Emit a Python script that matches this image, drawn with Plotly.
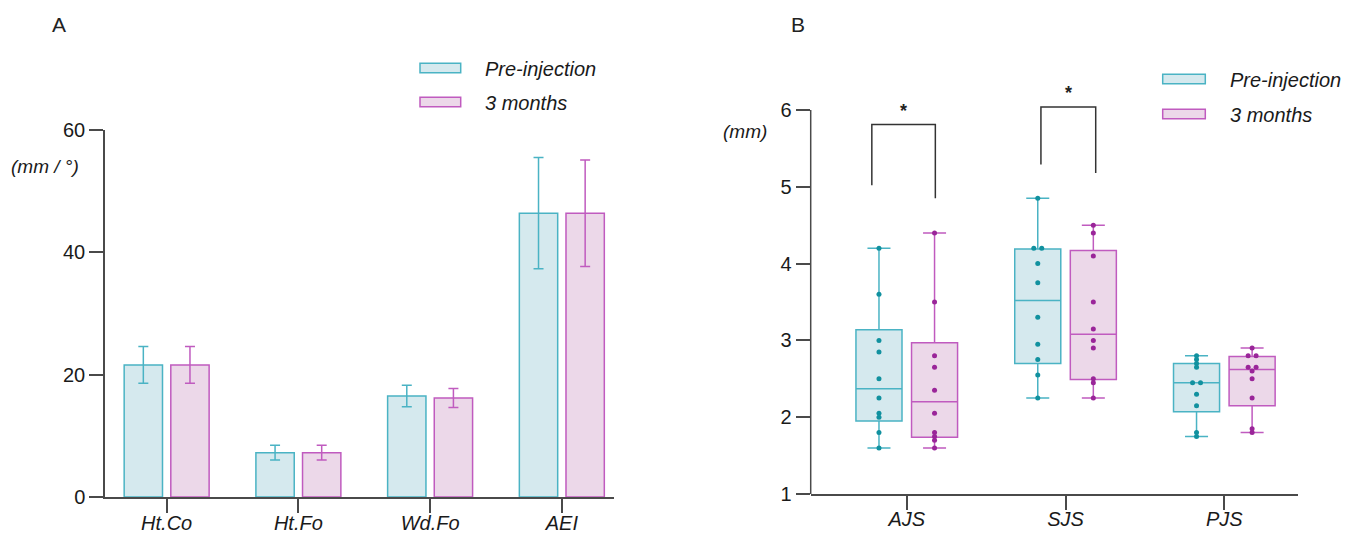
import plotly.graph_objects as go

# ---------------- data ----------------
# Panel A (bar chart, mean +/- error)
a_categories = ["Ht.Co", "Ht.Fo", "Wd.Fo", "AEI"]
a_pre_mean = [21.6, 7.25, 16.5, 46.4]
a_pre_err = [3.0, 1.2, 1.75, 9.1]
a_3m_mean = [21.6, 7.25, 16.2, 46.4]
a_3m_err = [3.0, 1.2, 1.55, 8.7]
a_yticks = [0, 20, 40, 60]

# Panel B (box plots with individual points)
b_categories = ["AJS", "SJS", "PJS"]
b_pre_points = [
    [4.2, 3.6, 3.0, 2.85, 2.5, 2.25, 2.05, 2.0, 1.8, 1.6],
    [4.85, 4.2, 4.2, 4.0, 3.75, 3.3, 2.95, 2.75, 2.55, 2.25],
    [2.8, 2.75, 2.7, 2.65, 2.45, 2.45, 2.3, 2.15, 1.8, 1.75],
]
b_3m_points = [
    [4.4, 3.5, 2.8, 2.65, 2.35, 2.05, 1.8, 1.75, 1.7, 1.6],
    [4.5, 4.4, 4.1, 3.5, 3.15, 3.0, 2.9, 2.5, 2.45, 2.25],
    [2.9, 2.8, 2.8, 2.65, 2.65, 2.6, 2.5, 2.25, 1.85, 1.8],
]
b_pre_q1 = [1.95, 2.70, 2.07]
b_pre_median = [2.37, 3.52, 2.45]
b_pre_q3 = [3.14, 4.19, 2.70]
b_pre_low = [1.6, 2.25, 1.75]
b_pre_high = [4.2, 4.85, 2.8]
b_3m_q1 = [1.74, 2.49, 2.15]
b_3m_median = [2.20, 3.08, 2.62]
b_3m_q3 = [2.97, 4.17, 2.79]
b_3m_low = [1.6, 2.25, 1.8]
b_3m_high = [4.4, 4.5, 2.9]
b_yticks = [1, 2, 3, 4, 5, 6]

series_names = ["Pre-injection", "3 months"]

# ---------------- styles ----------------
W, H = 1358, 533
FONT = "Liberation Sans, Arial, Helvetica, sans-serif"
PRE_FILL = "#d5e9ee"
PRE_LINE = "#4ab3c4"
PRE_DOT = "#11919f"
M3_FILL = "#ecd8e9"
M3_LINE = "#c05bbf"
M3_DOT = "#9a2599"
AXIS = "#4a4a4a"


def px(x):
    return x / W


def py(y):
    return (H - y) / H


fig = go.Figure()

# ---- Panel A bars ----
a_x = list(range(len(a_categories)))
fig.add_trace(go.Bar(
    x=a_x, y=a_pre_mean, name=series_names[0], xaxis="x", yaxis="y",
    marker=dict(color=PRE_FILL, line=dict(color=PRE_LINE, width=1.5)),
    error_y=dict(type="data", array=a_pre_err, color=PRE_LINE, thickness=1.5, width=5),
    showlegend=False,
))
fig.add_trace(go.Bar(
    x=a_x, y=a_3m_mean, name=series_names[1], xaxis="x", yaxis="y",
    marker=dict(color=M3_FILL, line=dict(color=M3_LINE, width=1.5)),
    error_y=dict(type="data", array=a_3m_err, color=M3_LINE, thickness=1.5, width=5),
    showlegend=False,
))

# ---- Panel B boxes ----
OFF = 0.175
BW = 0.29
b_x = list(range(len(b_categories)))
for q1, med, q3, lo, hi, fill, line, sgn, nm in [
    (b_pre_q1, b_pre_median, b_pre_q3, b_pre_low, b_pre_high, PRE_FILL, PRE_LINE, -1, series_names[0]),
    (b_3m_q1, b_3m_median, b_3m_q3, b_3m_low, b_3m_high, M3_FILL, M3_LINE, 1, series_names[1]),
]:
    fig.add_trace(go.Box(
        x=[i + sgn * OFF for i in b_x], q1=q1, median=med, q3=q3,
        lowerfence=lo, upperfence=hi, width=BW, whiskerwidth=0.5,
        fillcolor=fill, line=dict(color=line, width=1.5),
        boxpoints=False, xaxis="x2", yaxis="y2", name=nm, showlegend=False,
        hoverinfo="skip",
    ))


def swarm(i, vals, sgn):
    """Place points at the box centre, spreading identical values side by side."""
    seen = {}
    out = []
    for v in vals:
        n = vals.count(v)
        idx = seen.get(v, 0)
        seen[v] = idx + 1
        d = (idx - (n - 1) / 2) * 0.05
        out.append(i + sgn * OFF + d)
    return out


for pts, dot, sgn in [(b_pre_points, PRE_DOT, -1), (b_3m_points, M3_DOT, 1)]:
    xs, ys = [], []
    for i, vals in enumerate(pts):
        xs += swarm(i, vals, sgn)
        ys += vals
    fig.add_trace(go.Scatter(
        x=xs, y=ys, mode="markers", xaxis="x2", yaxis="y2",
        marker=dict(color=dot, size=5), showlegend=False, hoverinfo="skip",
    ))

# ---------------- axes ----------------
tickfont = dict(family=FONT, size=20, color="#1a1a1a")
catfont = dict(family=FONT, size=20, color="#1a1a1a", style="italic")
common_axis = dict(showgrid=False, zeroline=False, showline=True, linecolor=AXIS,
                   linewidth=1.5, ticks="outside", ticklen=14, tickwidth=1.5,
                   tickcolor=AXIS, automargin=False)

fig.update_layout(
    width=W, height=H, margin=dict(l=0, r=0, t=0, b=0, pad=0),
    paper_bgcolor="white", plot_bgcolor="white",
    barmode="group", bargap=0.292, bargroupgap=0.178,
    boxmode="overlay",
    font=dict(family=FONT, color="#1a1a1a"),
    showlegend=False,
    xaxis=dict(domain=[px(105), px(614)], range=[-0.468, 3.396],
               tickvals=a_x, ticktext=a_categories, tickfont=catfont,
               ticklabelstandoff=-7, **common_axis),
    yaxis=dict(domain=[py(497), py(130)], range=[0, 60], tickvals=a_yticks,
               tickfont=tickfont, anchor="x", **common_axis),
    xaxis2=dict(domain=[px(810.7), px(1298)], range=[-0.605, 2.464], anchor="y2",
                tickvals=b_x, ticktext=b_categories, tickfont=catfont,
                ticklabelstandoff=-8, **common_axis),
    yaxis2=dict(domain=[py(494), py(494 - 5.35 * 76.8)], range=[1, 6.35],
                tickvals=b_yticks, tickfont=tickfont, anchor="x2",
                **{**common_axis, "showline": False}),
)

shapes = []
# manual y-axis line for panel B (ends at 6)
shapes.append(dict(type="line", xref="x2 domain", yref="y2", x0=0, x1=0, y0=1, y1=6,
                   line=dict(color=AXIS, width=1.5)))

# significance brackets
brackets = [
    # (x_left, x_right, y_top, y_left_bottom, y_right_bottom, y_star)
    (-0.22, 0.18, 5.81, 5.02, 4.85, 5.99),
    (0.845, 1.19, 6.04, 5.29, 5.18, 6.22),
]
annotations = []
for xl, xr, yt, ylb, yrb, ys in brackets:
    shapes.append(dict(type="path", xref="x2", yref="y2",
                       path=f"M {xl} {ylb} L {xl} {yt} L {xr} {yt} L {xr} {yrb}",
                       line=dict(color="#333333", width=1.5)))
    annotations.append(dict(text="<b>*</b>", x=(xl + xr) / 2, y=ys, xref="x2", yref="y2",
                            showarrow=False, font=dict(family=FONT, size=18, color="#222"),
                            xanchor="center", yanchor="middle"))

# legends drawn manually
legend_specs = [
    (420, 460.7, 482.7, [68, 102]),
    (1162.7, 1205.3, 1228.3, [79, 114]),
]
for x0, x1, tx, rows in legend_specs:
    for (fill, line), label, yc in zip([(PRE_FILL, PRE_LINE), (M3_FILL, M3_LINE)], series_names, rows):
        shapes.append(dict(type="rect", xref="paper", yref="paper",
                           x0=px(x0), x1=px(x1), y0=py(yc + 4.7), y1=py(yc - 4.7),
                           fillcolor=fill, line=dict(color=line, width=1.5)))
        annotations.append(dict(text=label, x=px(tx), y=py(yc + 1), xref="paper", yref="paper",
                                showarrow=False, xanchor="left", yanchor="middle",
                                font=dict(family=FONT, size=20, color="#1a1a1a", style="italic")))

# panel letters and y-axis units
annotations += [
    dict(text="A", x=px(50), y=py(25), xref="paper", yref="paper", showarrow=False,
         xanchor="left", yanchor="middle", font=dict(family=FONT, size=21, color="#222")),
    dict(text="B", x=px(789), y=py(25), xref="paper", yref="paper", showarrow=False,
         xanchor="left", yanchor="middle", font=dict(family=FONT, size=21, color="#222")),
    dict(text="(mm / °)", x=px(9), y=py(166), xref="paper", yref="paper", showarrow=False,
         xanchor="left", yanchor="middle",
         font=dict(family=FONT, size=19, color="#1a1a1a", style="italic")),
    dict(text="(mm)", x=px(721), y=py(131), xref="paper", yref="paper", showarrow=False,
         xanchor="left", yanchor="middle",
         font=dict(family=FONT, size=19, color="#1a1a1a", style="italic")),
]

fig.update_layout(shapes=shapes, annotations=annotations)
fig.write_html(
    "out.html",
    config={"displayModeBar": False},
    post_script="document.body.style.margin='0';document.body.style.overflow='hidden';",
)
